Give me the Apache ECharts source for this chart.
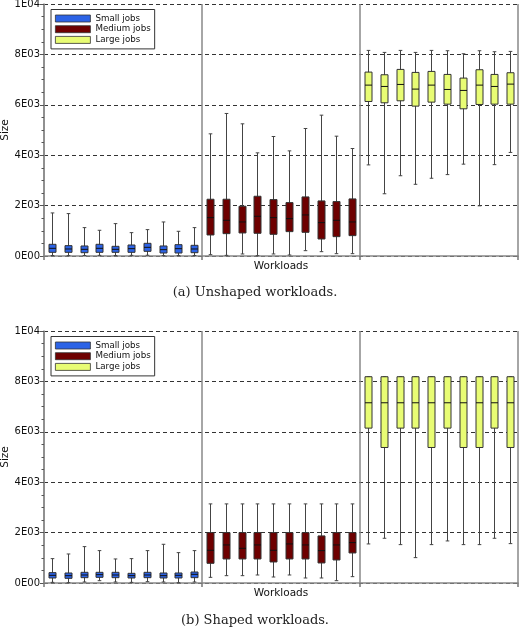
<!DOCTYPE html>
<html>
<head>
<meta charset="utf-8">
<script src="https://cdn.jsdelivr.net/npm/echarts@6/dist/echarts.min.js"></script>
<style>html,body{margin:0;padding:0;background:#fff;}#c{width:520px;height:628px;}</style>
</head>
<body>
<div id="c"></div>
<script>
// ---- data ----
const workloads = ['S1','S2','S3','S4','S5','S6','S7','S8','S9','S10',
                   'M1','M2','M3','M4','M5','M6','M7','M8','M9','M10',
                   'L1','L2','L3','L4','L5','L6','L7','L8','L9','L10'];
const seriesNames = ['Small jobs', 'Medium jobs', 'Large jobs'];
const yTickLabels = ['0E00', '2E03', '4E03', '6E03', '8E03', '1E04'];
const captions = ['(a) Unshaped workloads.', '(b) Shaped workloads.'];

// [low, q1, median, q3, high]
const unshapedSmall = [
  [20, 146, 305, 464, 1709], [15, 146, 278, 411, 1683], [20, 132, 265, 398, 1126],
  [25, 146, 305, 464, 1020], [20, 146, 265, 384, 1285], [25, 146, 291, 437, 927],
  [30, 186, 344, 503, 1047], [15, 119, 252, 398, 1351], [20, 119, 291, 450, 980],
  [20, 132, 278, 424, 1126]
];
const unshapedMedium = [
  [53, 834, 1523, 2252, 4848], [26, 887, 1417, 2252, 5656], [80, 914, 1351, 1974, 5245],
  [13, 901, 1576, 2371, 4093], [80, 861, 1523, 2238, 4742], [40, 967, 1483, 2119, 4172],
  [212, 940, 1629, 2344, 5060], [172, 675, 1325, 2185, 5589], [93, 768, 1417, 2159, 4755],
  [93, 808, 1351, 2265, 4265]
];
const unshapedLarge = [
  [3615, 6132, 6781, 7298, 8159], [2470, 6079, 6728, 7192, 8079], [3185, 6159, 6808, 7404, 8159],
  [2845, 5947, 6623, 7285, 8079], [3085, 6106, 6781, 7325, 8159], [3230, 6026, 6609, 7205, 8146],
  [3645, 5841, 6570, 7060, 8026], [1990, 6013, 6781, 7391, 8146], [3625, 6026, 6728, 7205, 8106],
  [4110, 6026, 6821, 7272, 8119]
];
const shapedSmall = [
  [26, 199, 305, 411, 967], [13, 185, 291, 397, 1152], [40, 212, 318, 424, 1444],
  [93, 225, 331, 424, 1285], [40, 212, 318, 424, 954], [26, 199, 291, 384, 967],
  [53, 212, 318, 424, 1285], [40, 199, 291, 397, 1536], [13, 199, 305, 397, 1205],
  [40, 212, 344, 437, 1285]
];
const shapedMedium = [
  [225, 781, 1298, 2000, 3139], [291, 954, 1510, 2000, 3139], [291, 954, 1377, 2000, 3139],
  [318, 954, 1510, 2000, 3139], [238, 834, 1298, 2000, 3139], [318, 954, 1550, 2000, 3139],
  [199, 954, 1510, 2000, 3139], [199, 795, 1285, 1868, 3139], [93, 914, 1510, 2000, 3139],
  [252, 1192, 1603, 2000, 3139]
];
const shapedLarge = [
  [1550, 6146, 7152, 8185, 8185], [1775, 5377, 7152, 8185, 8185], [1523, 6146, 7152, 8185, 8185],
  [1007, 6146, 7152, 8185, 8185], [1523, 5377, 7152, 8185, 8185], [1669, 6146, 7152, 8185, 8185],
  [1523, 5377, 7152, 8185, 8185], [1523, 5377, 7152, 8185, 8185], [1775, 6146, 7152, 8185, 8185],
  [1563, 5377, 7152, 8185, 8185]
];

const colors = ['#2c63e6', '#6e0000', '#e8fc74'];
const FONT = 'DejaVu Sans';

const panels = [
  [unshapedSmall, unshapedMedium, unshapedLarge],
  [shapedSmall, shapedMedium, shapedLarge]
];
const gridTops = [4, 331];
const gridH = 252;

function renderBox(params, api) {
  const idx = api.value(0);
  const lo = api.coord([idx, api.value(1)]);
  const q1 = api.coord([idx, api.value(2)]);
  const md = api.coord([idx, api.value(3)]);
  const q3 = api.coord([idx, api.value(4)]);
  const hi = api.coord([idx, api.value(5)]);
  const x = Math.round(lo[0]) + 0.5;
  const hw = 3.5, cw = 1.8;
  const lineStyle = { stroke: '#444', lineWidth: 1 };
  return {
    type: 'group',
    children: [
      { type: 'line', shape: { x1: x, y1: hi[1], x2: x, y2: lo[1] }, style: lineStyle },
      { type: 'line', shape: { x1: x - cw, y1: hi[1], x2: x + cw, y2: hi[1] }, style: lineStyle },
      { type: 'line', shape: { x1: x - cw, y1: lo[1], x2: x + cw, y2: lo[1] }, style: lineStyle },
      { type: 'rect', shape: { x: x - hw, y: q3[1], width: hw * 2, height: q1[1] - q3[1] },
        style: { fill: api.visual('color'), stroke: '#333', lineWidth: 1 } },
      { type: 'line', shape: { x1: x - hw, y1: md[1], x2: x + hw, y2: md[1] },
        style: { stroke: '#111', lineWidth: 1 } }
    ]
  };
}

const grid = [], xAxis = [], yAxis = [], series = [], legend = [], title = [];
gridTops.forEach((top, p) => {
  grid.push({ left: 44, top: top, width: 474, height: gridH, containLabel: false, outerBoundsMode: 'none' });
  xAxis.push({
    type: 'category', gridIndex: p, data: workloads, boundaryGap: true, position: 'bottom',
    axisLine: { show: true, lineStyle: { color: '#888', width: 1.5 } },
    axisTick: { show: false }, axisLabel: { show: false }, splitLine: { show: false }
  });
  xAxis.push({
    type: 'value', gridIndex: p, min: 0, max: 30, interval: 10, position: 'bottom',
    axisLine: { show: false },
    axisTick: { show: true, length: 4, lineStyle: { color: '#777', width: 1.5 } },
    axisLabel: { show: false },
    splitLine: { show: true, lineStyle: { color: '#888', width: 1.5, type: 'solid' } },
    name: 'Workloads', nameLocation: 'middle', nameGap: 5, nameMoveOverlap: false,
    nameTextStyle: { fontFamily: FONT, fontSize: 10.5, color: '#111', verticalAlign: 'top' }
  });
  yAxis.push({
    type: 'value', gridIndex: p, min: 0, max: 10000, interval: 2000,
    axisLine: { show: true, lineStyle: { color: '#888', width: 1.5 } },
    axisTick: { show: true, length: 4, lineStyle: { color: '#555' } },
    minorTick: { show: true, splitNumber: 4, length: 2.5, lineStyle: { color: '#555' } },
    axisLabel: { fontFamily: FONT, fontSize: 10, color: '#111', margin: 4,
      formatter: v => yTickLabels[Math.round(v / 2000)] },
    splitLine: { show: true, lineStyle: { color: '#333', width: 1, type: [4, 3] } },
    name: 'Size', nameLocation: 'middle', nameGap: 33, nameRotate: 90, nameMoveOverlap: false,
    nameTextStyle: { fontFamily: FONT, fontSize: 10.5, color: '#111' }
  });
  panels[p].forEach((arr, g) => {
    series.push({
      type: 'custom', name: seriesNames[g], xAxisIndex: p * 2, yAxisIndex: p,
      itemStyle: { color: colors[g] },
      encode: { x: 0, y: [1, 2, 3, 4, 5] },
      renderItem: renderBox,
      z: 5,
      data: arr.map((d, i) => [g * 10 + i].concat(d))
    });
  });
  legend.push({
    orient: 'vertical', left: 51, top: top + 5.5,
    padding: [4, 4, 4, 4], itemWidth: 35, itemHeight: 7, itemGap: 0.7,
    borderColor: '#333', borderWidth: 1, backgroundColor: '#fff',
    selectedMode: false,
    textStyle: { fontFamily: FONT, fontSize: 8.7, color: '#111', lineHeight: 10 },
    data: seriesNames.map((n, g) => ({ name: n, icon: 'rect',
      itemStyle: { color: colors[g], borderColor: '#333', borderWidth: 0.8 } }))
  });
});
title.push({ text: captions[0], left: 255, top: 286, textAlign: 'center', padding: 0,
  textStyle: { fontFamily: 'DejaVu Serif', fontSize: 13, fontWeight: 'normal', color: '#222' } });
title.push({ text: captions[1], left: 255, top: 614, textAlign: 'center', padding: 0,
  textStyle: { fontFamily: 'DejaVu Serif', fontSize: 13, fontWeight: 'normal', color: '#222' } });

const chart = echarts.init(document.getElementById('c'), null, { renderer: 'canvas' });
chart.setOption({
  animation: false,
  backgroundColor: '#fff',
  title, grid, xAxis, yAxis, legend, series
});
</script>
</body>
</html>
